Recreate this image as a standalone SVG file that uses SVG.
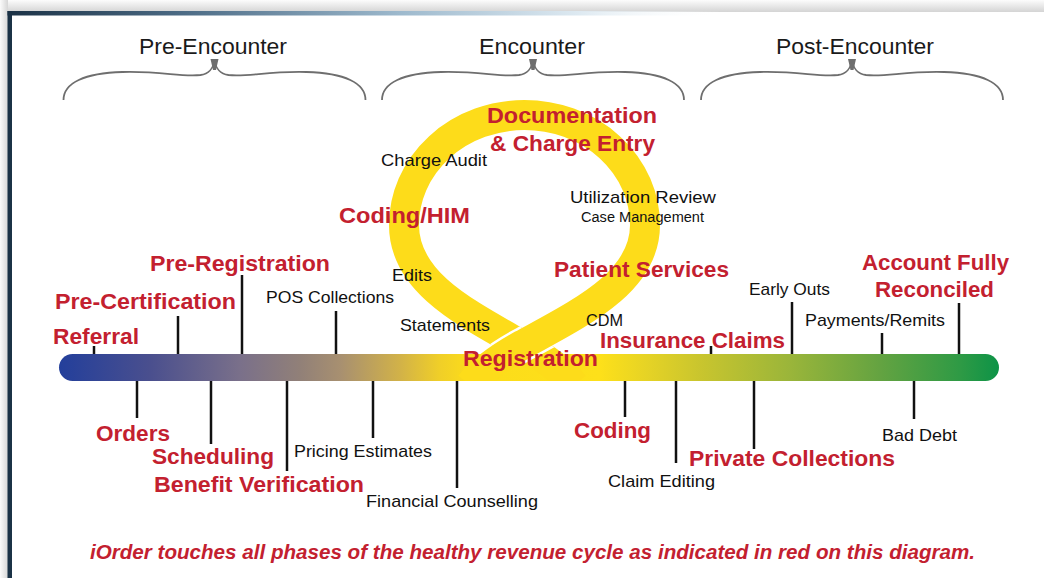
<svg xmlns="http://www.w3.org/2000/svg" width="1044" height="578" viewBox="0 0 1044 578">
<style>
.h{font-family:"Liberation Sans",Arial,sans-serif;font-size:22px;fill:#1a1a1a}
.r{font-family:"Liberation Sans",Arial,sans-serif;font-weight:bold;font-size:22px;fill:#c3202f}
.b{font-family:"Liberation Sans",Arial,sans-serif;font-size:17px;fill:#111}
.s{font-family:"Liberation Sans",Arial,sans-serif;font-size:14px;fill:#111}
.f{font-family:"Liberation Sans",Arial,sans-serif;font-weight:bold;font-style:italic;font-size:20px;fill:#c3202f}
.tick{stroke:#111;stroke-width:2.5;fill:none}
.brace{stroke:#6e6e6e;stroke-width:1.8;fill:none}
.rib{stroke:#fddc1a;stroke-width:30;fill:none}
</style>
<defs>
<linearGradient id="topSh" x1="0" y1="0" x2="0" y2="1"><stop offset="0" stop-color="#fcfcfc"/><stop offset="1" stop-color="#d4d4d4"/></linearGradient>
<linearGradient id="leftSh" x1="0" y1="0" x2="1" y2="0"><stop offset="0" stop-color="#fbfbfb"/><stop offset="1" stop-color="#d6d6d6"/></linearGradient>
<linearGradient id="topBorder" gradientUnits="userSpaceOnUse" x1="8" y1="0" x2="720" y2="0"><stop offset="0" stop-color="#1b3246"/><stop offset="0.25" stop-color="#4d6c86"/><stop offset="0.55" stop-color="#9db9cd"/><stop offset="0.8" stop-color="#dde9f1"/><stop offset="1" stop-color="#ffffff" stop-opacity="0"/></linearGradient>
<linearGradient id="bar" gradientUnits="userSpaceOnUse" x1="59" y1="0" x2="999" y2="0">
<stop offset="0" stop-color="#233f9b"/>
<stop offset="0.097" stop-color="#4a4f8e"/>
<stop offset="0.193" stop-color="#7a708a"/>
<stop offset="0.256" stop-color="#918078"/>
<stop offset="0.3" stop-color="#a89070"/>
<stop offset="0.363" stop-color="#d2b248"/>
<stop offset="0.405" stop-color="#f0cf28"/>
<stop offset="0.437" stop-color="#fcdc1a"/>
<stop offset="0.576" stop-color="#fde01a"/>
<stop offset="0.629" stop-color="#e4d226"/>
<stop offset="0.682" stop-color="#c9c52e"/>
<stop offset="0.778" stop-color="#9ab53a"/>
<stop offset="0.873" stop-color="#64a341"/>
<stop offset="0.959" stop-color="#2e9a45"/>
<stop offset="1" stop-color="#0d9347"/>
</linearGradient>
<clipPath id="ribClip"><rect x="0" y="0" width="1044" height="381"/></clipPath>
<mask id="leftMask" maskUnits="userSpaceOnUse" x="0" y="0" width="1044" height="578">
<path d="M404,225 C404,282 464,312 522,345 C544,357 562,370 574,385" stroke="#fff" stroke-width="30" fill="none"/>
</mask>
<path id="braceShape" d="M-151,100 C-151,83 -130,73 -92,72 C-52,71 -35,77 -14,75 C-6,74 -1,68 0,60 C1,68 6,74 14,75 C35,77 52,71 92,72 C130,73 151,83 151,100"/>
<path id="cusp" d="M-4,59 L4,59 L1.5,70 L-1.5,70 Z"/>
</defs>

<!-- frame -->
<rect x="0" y="0" width="1044" height="578" fill="#ffffff"/>
<rect x="0" y="0" width="1044" height="12" fill="url(#topSh)"/>
<rect x="0" y="0" width="8" height="578" fill="url(#leftSh)"/>
<rect x="7.5" y="11" width="720" height="4.5" fill="url(#topBorder)"/>
<rect x="7.5" y="11" width="4.5" height="567" fill="#1b3246"/>

<!-- phase headings -->
<g id="pre-encounter">
<text class="h" x="139" y="54" textLength="148" lengthAdjust="spacingAndGlyphs">Pre-Encounter</text>
<use href="#braceShape" class="brace" transform="translate(214.5,0)"/>
<use href="#cusp" fill="#6e6e6e" transform="translate(214.5,0)"/>
</g>
<g id="encounter">
<text class="h" x="479" y="54" textLength="106" lengthAdjust="spacingAndGlyphs">Encounter</text>
<use href="#braceShape" class="brace" transform="translate(533,0)"/>
<use href="#cusp" fill="#6e6e6e" transform="translate(533,0)"/>
</g>
<g id="post-encounter">
<text class="h" x="776" y="54" textLength="158" lengthAdjust="spacingAndGlyphs">Post-Encounter</text>
<use href="#braceShape" class="brace" transform="translate(852,0)"/>
<use href="#cusp" fill="#6e6e6e" transform="translate(852,0)"/>
</g>

<!-- timeline bar -->
<g id="timeline">
<rect x="59" y="354" width="940" height="27" rx="13.5" ry="13.5" fill="url(#bar)"/>
</g>

<!-- ribbon loop -->
<g id="ribbon" clip-path="url(#ribClip)">
<path class="rib" d="M574,385 C562,370 544,357 522,345 C464,312 404,282 404,225 A120.5,110 0 0 1 645,225"/>
<path d="M645,225 C645,282 582,312 522,345 C500,357 482,370 470,385" stroke="#ffffff" stroke-width="35" fill="none" mask="url(#leftMask)"/>
<path class="rib" d="M645,225 C645,282 582,312 522,345 C500,357 482,370 470,385"/>
</g>

<!-- connectors (ticks) -->
<g id="connectors">
<line class="tick" x1="94" y1="346" x2="94" y2="354"/>
<line class="tick" x1="178" y1="316" x2="178" y2="354"/>
<line class="tick" x1="242" y1="275" x2="242" y2="354"/>
<line class="tick" x1="336" y1="311" x2="336" y2="354"/>
<line class="tick" x1="711" y1="346" x2="711" y2="354"/>
<line class="tick" x1="792" y1="302" x2="792" y2="354"/>
<line class="tick" x1="882" y1="333" x2="882" y2="354"/>
<line class="tick" x1="959" y1="303" x2="959" y2="354"/>
<line class="tick" x1="137" y1="381" x2="137" y2="418"/>
<line class="tick" x1="211" y1="381" x2="211" y2="444"/>
<line class="tick" x1="287" y1="381" x2="287" y2="471"/>
<line class="tick" x1="373" y1="381" x2="373" y2="438"/>
<line class="tick" x1="457" y1="381" x2="457" y2="488"/>
<line class="tick" x1="625" y1="381" x2="625" y2="417"/>
<line class="tick" x1="676" y1="381" x2="676" y2="463"/>
<line class="tick" x1="754" y1="381" x2="754" y2="449"/>
<line class="tick" x1="914" y1="381" x2="914" y2="419"/>
</g>

<!-- loop labels -->
<g id="documentation"><text class="r" x="487" y="123" textLength="170" lengthAdjust="spacingAndGlyphs">Documentation</text><text class="r" x="490" y="151" textLength="165" lengthAdjust="spacingAndGlyphs">&amp; Charge Entry</text></g>
<g id="charge-audit"><text class="b" x="381" y="166" textLength="106" lengthAdjust="spacingAndGlyphs">Charge Audit</text></g>
<g id="utilization-review"><text class="b" x="570" y="203" textLength="146" lengthAdjust="spacingAndGlyphs">Utilization Review</text></g>
<g id="case-management"><text class="s" x="581" y="222" textLength="123" lengthAdjust="spacingAndGlyphs">Case Management</text></g>
<g id="coding-him"><text class="r" x="339" y="223" textLength="131" lengthAdjust="spacingAndGlyphs">Coding/HIM</text></g>
<g id="patient-services"><text class="r" x="554" y="277" textLength="175" lengthAdjust="spacingAndGlyphs">Patient Services</text></g>
<g id="edits"><text class="b" x="392" y="281" textLength="40" lengthAdjust="spacingAndGlyphs">Edits</text></g>
<g id="statements"><text class="b" x="400" y="331" textLength="90" lengthAdjust="spacingAndGlyphs">Statements</text></g>
<g id="cdm"><text class="b" x="586" y="326" textLength="37" lengthAdjust="spacingAndGlyphs">CDM</text></g>
<g id="registration"><text class="r" x="463" y="366" textLength="135" lengthAdjust="spacingAndGlyphs">Registration</text></g>

<!-- upper timeline labels -->
<g id="referral"><text class="r" x="53" y="344" textLength="86" lengthAdjust="spacingAndGlyphs">Referral</text></g>
<g id="pre-certification"><text class="r" x="55" y="309" textLength="181" lengthAdjust="spacingAndGlyphs">Pre-Certification</text></g>
<g id="pre-registration"><text class="r" x="150" y="271" textLength="180" lengthAdjust="spacingAndGlyphs">Pre-Registration</text></g>
<g id="pos-collections"><text class="b" x="266" y="303" textLength="128" lengthAdjust="spacingAndGlyphs">POS Collections</text></g>
<g id="insurance-claims"><text class="r" x="600" y="348" textLength="185" lengthAdjust="spacingAndGlyphs">Insurance Claims</text></g>
<g id="early-outs"><text class="b" x="749" y="295" textLength="81" lengthAdjust="spacingAndGlyphs">Early Outs</text></g>
<g id="payments-remits"><text class="b" x="805" y="326" textLength="140" lengthAdjust="spacingAndGlyphs">Payments/Remits</text></g>
<g id="account-fully-reconciled"><text class="r" x="862" y="270" textLength="147" lengthAdjust="spacingAndGlyphs">Account Fully</text><text class="r" x="875" y="297" textLength="119" lengthAdjust="spacingAndGlyphs">Reconciled</text></g>

<!-- lower timeline labels -->
<g id="orders"><text class="r" x="96" y="441" textLength="74" lengthAdjust="spacingAndGlyphs">Orders</text></g>
<g id="scheduling"><text class="r" x="152" y="464" textLength="122" lengthAdjust="spacingAndGlyphs">Scheduling</text></g>
<g id="benefit-verification"><text class="r" x="154" y="492" textLength="210" lengthAdjust="spacingAndGlyphs">Benefit Verification</text></g>
<g id="pricing-estimates"><text class="b" x="294" y="457" textLength="138" lengthAdjust="spacingAndGlyphs">Pricing Estimates</text></g>
<g id="financial-counselling"><text class="b" x="366" y="507" textLength="172" lengthAdjust="spacingAndGlyphs">Financial Counselling</text></g>
<g id="coding"><text class="r" x="574" y="438" textLength="77" lengthAdjust="spacingAndGlyphs">Coding</text></g>
<g id="claim-editing"><text class="b" x="608" y="487" textLength="107" lengthAdjust="spacingAndGlyphs">Claim Editing</text></g>
<g id="private-collections"><text class="r" x="689" y="466" textLength="206" lengthAdjust="spacingAndGlyphs">Private Collections</text></g>
<g id="bad-debt"><text class="b" x="882" y="441" textLength="75" lengthAdjust="spacingAndGlyphs">Bad Debt</text></g>

<!-- footer -->
<g id="footer"><text class="f" x="90" y="559" textLength="885" lengthAdjust="spacingAndGlyphs">iOrder touches all phases of the healthy revenue cycle as indicated in red on this diagram.</text></g>
</svg>
